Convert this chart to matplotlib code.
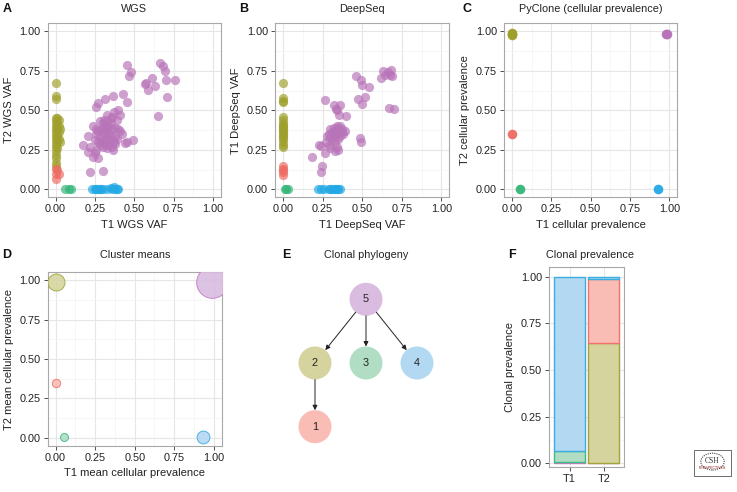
import numpy as np
import matplotlib
matplotlib.use("Agg")
import matplotlib.pyplot as plt
from matplotlib.patches import Circle, Rectangle
from matplotlib.ticker import MultipleLocator

plt.rcParams['font.family'] = ['Liberation Sans', 'DejaVu Sans']

# cluster colours (1 red, 2 olive, 3 green, 4 blue, 5 purple)
clusters = [1, 2, 3, 4, 5]
dot_cols = {1: '#EE6B62', 2: '#9FA02C', 3: '#33B578', 4: '#22A8E4', 5: '#B874B8'}
light_cols = {1: '#F9BDB5', 2: '#D5D49E', 3: '#B0DDC3', 4: '#B3D8F2', 5: '#D9BCE0'}
edge_cols = {1: '#F0736B', 2: '#A3A53A', 3: '#3DBB80', 4: '#3AAEE0', 5: '#C77CC5'}

# ---- panel A : WGS VAF ----
wgs_t1 = {
    5: [0.453, 0.479, 0.470, 0.666, 0.680, 0.694, 0.613, 0.577, 0.570, 0.587, 0.634, 0.704, 0.757, 0.709, 0.651,
        0.426, 0.457, 0.368, 0.315, 0.268, 0.255, 0.40, 0.41, 0.39, 0.37, 0.36, 0.33,
        0.28, 0.30, 0.32, 0.34, 0.35, 0.31, 0.29, 0.33, 0.36, 0.38, 0.40, 0.27, 0.30, 0.32, 0.34, 0.36, 0.38, 0.41,
        0.42, 0.26, 0.28, 0.30, 0.33, 0.35, 0.37, 0.39, 0.31, 0.29, 0.27, 0.25, 0.34, 0.32, 0.30, 0.28, 0.36, 0.38,
        0.33, 0.26, 0.24, 0.35, 0.31, 0.33,
        0.49, 0.443, 0.457, 0.177, 0.204, 0.209, 0.22, 0.24, 0.26, 0.219, 0.304, 0.368, 0.25, 0.27],
    2: [0.0, 0.0, 0.0, 0.0, 0.01, 0.02, 0.0, 0.01, 0.0, 0.02, 0.0, 0.01, 0.03, 0.0, 0.02, 0.0, 0.01, 0.0, 0.02,
        0.0, 0.03, 0.01, 0.0, 0.0, 0.01, 0.0, 0.0, 0.0, 0.0, 0.0],
    1: [0.0, 0.01, 0.0, 0.02, 0.0],
    3: [0.06, 0.085, 0.095],
    4: [0.23, 0.25, 0.26, 0.27, 0.28, 0.29, 0.30, 0.33, 0.35, 0.36, 0.37, 0.38, 0.39, 0.40],
}
wgs_t2 = {
    5: [0.789, 0.740, 0.718, 0.800, 0.780, 0.746, 0.704, 0.672, 0.665, 0.630, 0.651, 0.693, 0.693, 0.583, 0.467,
        0.605, 0.550, 0.592, 0.573, 0.545, 0.520, 0.50, 0.47, 0.44, 0.49, 0.46, 0.47,
        0.43, 0.42, 0.41, 0.40, 0.42, 0.39, 0.38, 0.38, 0.38, 0.39, 0.38, 0.37, 0.36, 0.35, 0.35, 0.34, 0.33, 0.37,
        0.35, 0.35, 0.33, 0.32, 0.32, 0.31, 0.30, 0.32, 0.30, 0.30, 0.30, 0.31, 0.29, 0.28, 0.27, 0.28, 0.27, 0.29,
        0.26, 0.38, 0.40, 0.45, 0.44, 0.43,
        0.31, 0.296, 0.30, 0.28, 0.338, 0.239, 0.27, 0.207, 0.25, 0.108, 0.118, 0.25, 0.23, 0.20],
    2: [0.67, 0.59, 0.57, 0.45, 0.45, 0.44, 0.43, 0.42, 0.41, 0.40, 0.39, 0.38, 0.38, 0.37, 0.36, 0.35, 0.34, 0.33,
        0.32, 0.31, 0.30, 0.30, 0.29, 0.27, 0.26, 0.24, 0.22, 0.20, 0.17, 0.15],
    1: [0.13, 0.12, 0.10, 0.10, 0.065],
    3: [0.0, 0.0, 0.0],
    4: [0.0, 0.0, 0.0, 0.0, 0.0, 0.0, 0.0, 0.0, 0.01, 0.0, 0.015, 0.0, 0.0, 0.0],
}

# ---- panel B : DeepSeq VAF ----
deep_t1 = {
    5: [0.459, 0.49, 0.499, 0.543, 0.632, 0.68, 0.617, 0.642, 0.674, 0.66, 0.69, 0.474, 0.516, 0.501, 0.669, 0.70,
        0.267, 0.322, 0.358, 0.337, 0.354, 0.40, 0.34,
        0.30, 0.32, 0.34, 0.36, 0.33, 0.35, 0.37, 0.31, 0.29, 0.32, 0.34, 0.36, 0.38, 0.33, 0.30, 0.35, 0.28, 0.31,
        0.33, 0.37, 0.39, 0.35,
        0.484, 0.49, 0.242, 0.225, 0.185, 0.246, 0.242, 0.263, 0.347, 0.326, 0.27, 0.29, 0.30, 0.34],
    2: [0.0] * 20,
    1: [0.0] * 5,
    3: [0.01, 0.02, 0.03],
    4: [0.22, 0.24, 0.26, 0.29, 0.30, 0.31, 0.32, 0.33, 0.34, 0.35, 0.36],
}
deep_t2 = {
    5: [0.719, 0.689, 0.658, 0.645, 0.746, 0.757, 0.704, 0.725, 0.725, 0.74, 0.72, 0.571, 0.581, 0.539, 0.514, 0.51,
        0.567, 0.535, 0.535, 0.507, 0.471, 0.467, 0.50,
        0.38, 0.39, 0.40, 0.40, 0.37, 0.37, 0.36, 0.36, 0.35, 0.34, 0.35, 0.34, 0.35, 0.33, 0.33, 0.32, 0.34, 0.31,
        0.30, 0.38, 0.37, 0.39,
        0.323, 0.298, 0.275, 0.28, 0.203, 0.15, 0.112, 0.228, 0.25, 0.245, 0.30, 0.28, 0.26, 0.27],
    2: [0.67, 0.58, 0.56, 0.55, 0.46, 0.44, 0.42, 0.41, 0.40, 0.39, 0.38, 0.37, 0.36, 0.35, 0.34, 0.33, 0.32, 0.30,
        0.28, 0.27],
    1: [0.15, 0.13, 0.12, 0.11, 0.09],
    3: [0.0, 0.0, 0.0],
    4: [0.0] * 11,
}

# ---- panel C / D : PyClone cellular prevalence ----
pc_t1 = {2: [0.0, 0.0, 0.0], 5: [0.98, 0.985], 1: [0.0], 3: [0.05], 4: [0.93]}
pc_t2 = {2: [0.975, 0.985, 0.99], 5: [0.98, 0.98], 1: [0.35], 3: [0.0], 4: [0.0]}

mean_t1 = [0.0, 0.0, 0.05, 0.93, 0.99]
mean_t2 = [0.35, 0.99, 0.005, 0.005, 0.99]
bubble_size = [36, 150, 33, 85, 520]

# ---- panel E : phylogeny ----
tree_edges = [(5, 2), (5, 3), (5, 4), (2, 1)]
node_col = {5: 1, 2: 0, 3: 1, 4: 2, 1: 0}
node_level = {5: 0, 2: 1, 3: 1, 4: 1, 1: 2}

# ---- panel F : clonal prevalence (bottom to top) ----
samples = ['T1', 'T2']
prev_t1 = [(5, 0.008), (3, 0.057), (4, 0.935)]
prev_t2 = [(5, 0.002), (2, 0.643), (1, 0.345), (4, 0.010)]

W, H = 737, 492
fig = plt.figure(figsize=(W / 100, H / 100), dpi=100)


def box(l, r, t, b):
    return [l / W, 1 - b / H, (r - l) / W, (b - t) / H]


def ftxt(x, y, s, **kw):
    fig.text(x / W, 1 - y / H, s, ha='center', va='center', **kw)


def style(ax):
    ax.set_xlim(-0.05, 1.05)
    ax.set_ylim(-0.05, 1.05)
    ax.xaxis.set_major_locator(MultipleLocator(0.25))
    ax.yaxis.set_major_locator(MultipleLocator(0.25))
    ax.xaxis.set_minor_locator(MultipleLocator(0.125))
    ax.yaxis.set_minor_locator(MultipleLocator(0.125))
    ax.xaxis.set_major_formatter(lambda v, p: f'{v:.2f}')
    ax.yaxis.set_major_formatter(lambda v, p: f'{v:.2f}')
    ax.grid(which='major', color='#E6E6E6', lw=0.8)
    ax.grid(which='minor', color='#F3F3F3', lw=0.5)
    ax.set_axisbelow(True)
    for s in ax.spines.values():
        s.set_color('#A8A8A8')
        s.set_linewidth(0.8)
    ax.tick_params(which='major', length=3, width=0.6, color='#333333', labelsize=7.8,
                   labelcolor='#222222', pad=2)
    ax.tick_params(which='minor', length=0)


def scatter_panel(ax, xs, ys, s, alpha):
    for c in [2, 1, 3, 4, 5]:
        ax.scatter(xs[c], ys[c], s=s, color=dot_cols[c], alpha=alpha, lw=0, zorder=3)


lab = dict(fontsize=8, color='#222222')

axA = fig.add_axes(box(47.7, 220.7, 23.3, 197.3))
style(axA)
scatter_panel(axA, wgs_t1, wgs_t2, 44, 0.68)
axA.set_xlabel('T1 WGS VAF', labelpad=4, **lab)
axA.set_ylabel('T2 WGS VAF', labelpad=4, **lab)

axB = fig.add_axes(box(275, 449.3, 23.3, 197.3))
style(axB)
scatter_panel(axB, deep_t1, deep_t2, 44, 0.68)
axB.set_xlabel('T1 DeepSeq VAF', labelpad=4, **lab)
axB.set_ylabel('T1 DeepSeq VAF', labelpad=4, **lab)

axC = fig.add_axes(box(504, 677.3, 23.3, 197.3))
style(axC)
scatter_panel(axC, pc_t1, pc_t2, 48, 0.95)
axC.set_xlabel('T1 cellular prevalence', labelpad=4, **lab)
axC.set_ylabel('T2 cellular prevalence', labelpad=4, **lab)

axD = fig.add_axes(box(47.7, 221.7, 272.3, 445.7))
style(axD)
for i, c in enumerate(clusters):
    axD.scatter(mean_t1[i], mean_t2[i], s=bubble_size[i], facecolor=light_cols[c],
                edgecolor=edge_cols[c], lw=0.7, alpha=0.9, zorder=3)
axD.set_xlabel('T1 mean cellular prevalence', labelpad=3.5, **lab)
axD.set_ylabel('T2 mean cellular prevalence', labelpad=4, **lab)

# phylogeny in pixel units
axE = fig.add_axes(box(280, 460, 270, 470))
axE.set_xlim(280, 460)
axE.set_ylim(470, 270)
axE.axis('off')
r = 16.5
pos = {n: (315 + 51 * node_col[n], 299.3 + 63.7 * node_level[n]) for n in node_col}
for a, b in tree_edges:
    (x0, y0), (x1, y1) = pos[a], pos[b]
    d = np.hypot(x1 - x0, y1 - y0)
    ux, uy = (x1 - x0) / d, (y1 - y0) / d
    axE.annotate('', xy=(x1 - ux * r, y1 - uy * r), xytext=(x0 + ux * r, y0 + uy * r),
                 arrowprops=dict(arrowstyle='-|>', color='#222222', lw=0.7, mutation_scale=7,
                                 shrinkA=0, shrinkB=0))
for n, (x, y) in pos.items():
    axE.add_patch(Circle((x, y), r, facecolor=light_cols[n], edgecolor='none'))
    axE.text(x, y, str(n), ha='center', va='center', fontsize=7.8, color='#222222')

# stacked clonal prevalence
axF = fig.add_axes(box(549, 624.3, 267.3, 466.7))
for i, stack in enumerate([prev_t1, prev_t2]):
    bottom = 0
    for c, v in stack:
        axF.bar(i + 1, v, bottom=bottom, width=0.9, color=light_cols[c], edgecolor=edge_cols[c],
                lw=1.0, zorder=3)
        bottom += v
axF.set_xlim(0.4, 2.6)
axF.set_ylim(-0.018, 1.05)
axF.set_xticks([1, 2])
axF.set_xticklabels(samples)
axF.yaxis.set_major_locator(MultipleLocator(0.25))
axF.yaxis.set_minor_locator(MultipleLocator(0.125))
axF.yaxis.set_major_formatter(lambda v, p: f'{v:.2f}')
axF.grid(which='major', color='#E6E6E6', lw=0.8)
axF.grid(which='minor', axis='y', color='#F3F3F3', lw=0.5)
axF.set_axisbelow(True)
for s in axF.spines.values():
    s.set_color('#A8A8A8')
    s.set_linewidth(0.8)
axF.tick_params(which='major', length=3, width=0.6, color='#333333', labelsize=7.8,
                labelcolor='#222222', pad=2)
axF.tick_params(which='minor', length=0)
axF.set_ylabel('Clonal prevalence', labelpad=4, **lab)

# titles and panel letters
ttl = dict(fontsize=7.8, color='#222222')
ftxt(134.2, 9, 'WGS', **ttl)
ftxt(362, 9, 'DeepSeq', **ttl)
ftxt(590.7, 9, 'PyClone (cellular prevalence)', **ttl)
ftxt(134.7, 254.5, 'Cluster means', **ttl)
ftxt(366, 254.5, 'Clonal phylogeny', **ttl)
ftxt(590, 254.5, 'Clonal prevalence', **ttl)
let = dict(fontsize=9, fontweight='bold', color='#111111')
ftxt(7, 9, 'A', **let)
ftxt(244, 9, 'B', **let)
ftxt(467, 9, 'C', **let)
ftxt(7, 255, 'D', **let)
ftxt(286, 255, 'E', **let)
ftxt(512, 255, 'F', **let)

# small publisher badge
axL = fig.add_axes(box(693, 732, 449, 477))
axL.set_xlim(0, 1)
axL.set_ylim(0, 1)
axL.axis('off')
axL.add_patch(Rectangle((0.02, 0.02), 0.96, 0.96, facecolor='white', edgecolor='#555555', lw=0.6))
axL.add_patch(Circle((0.5, 0.55), 0.3, facecolor='none', edgecolor='#444444', lw=0.8, ls=(0, (1, 1))))
axL.text(0.5, 0.58, 'CSH', ha='center', va='center', fontsize=5.5, color='#333333', family='Liberation Serif')
axL.text(0.5, 0.33, 'PERSPECTIVES', ha='center', va='center', fontsize=2.6, color='#8B1A1A')

fig.savefig('out.png', dpi=100)
